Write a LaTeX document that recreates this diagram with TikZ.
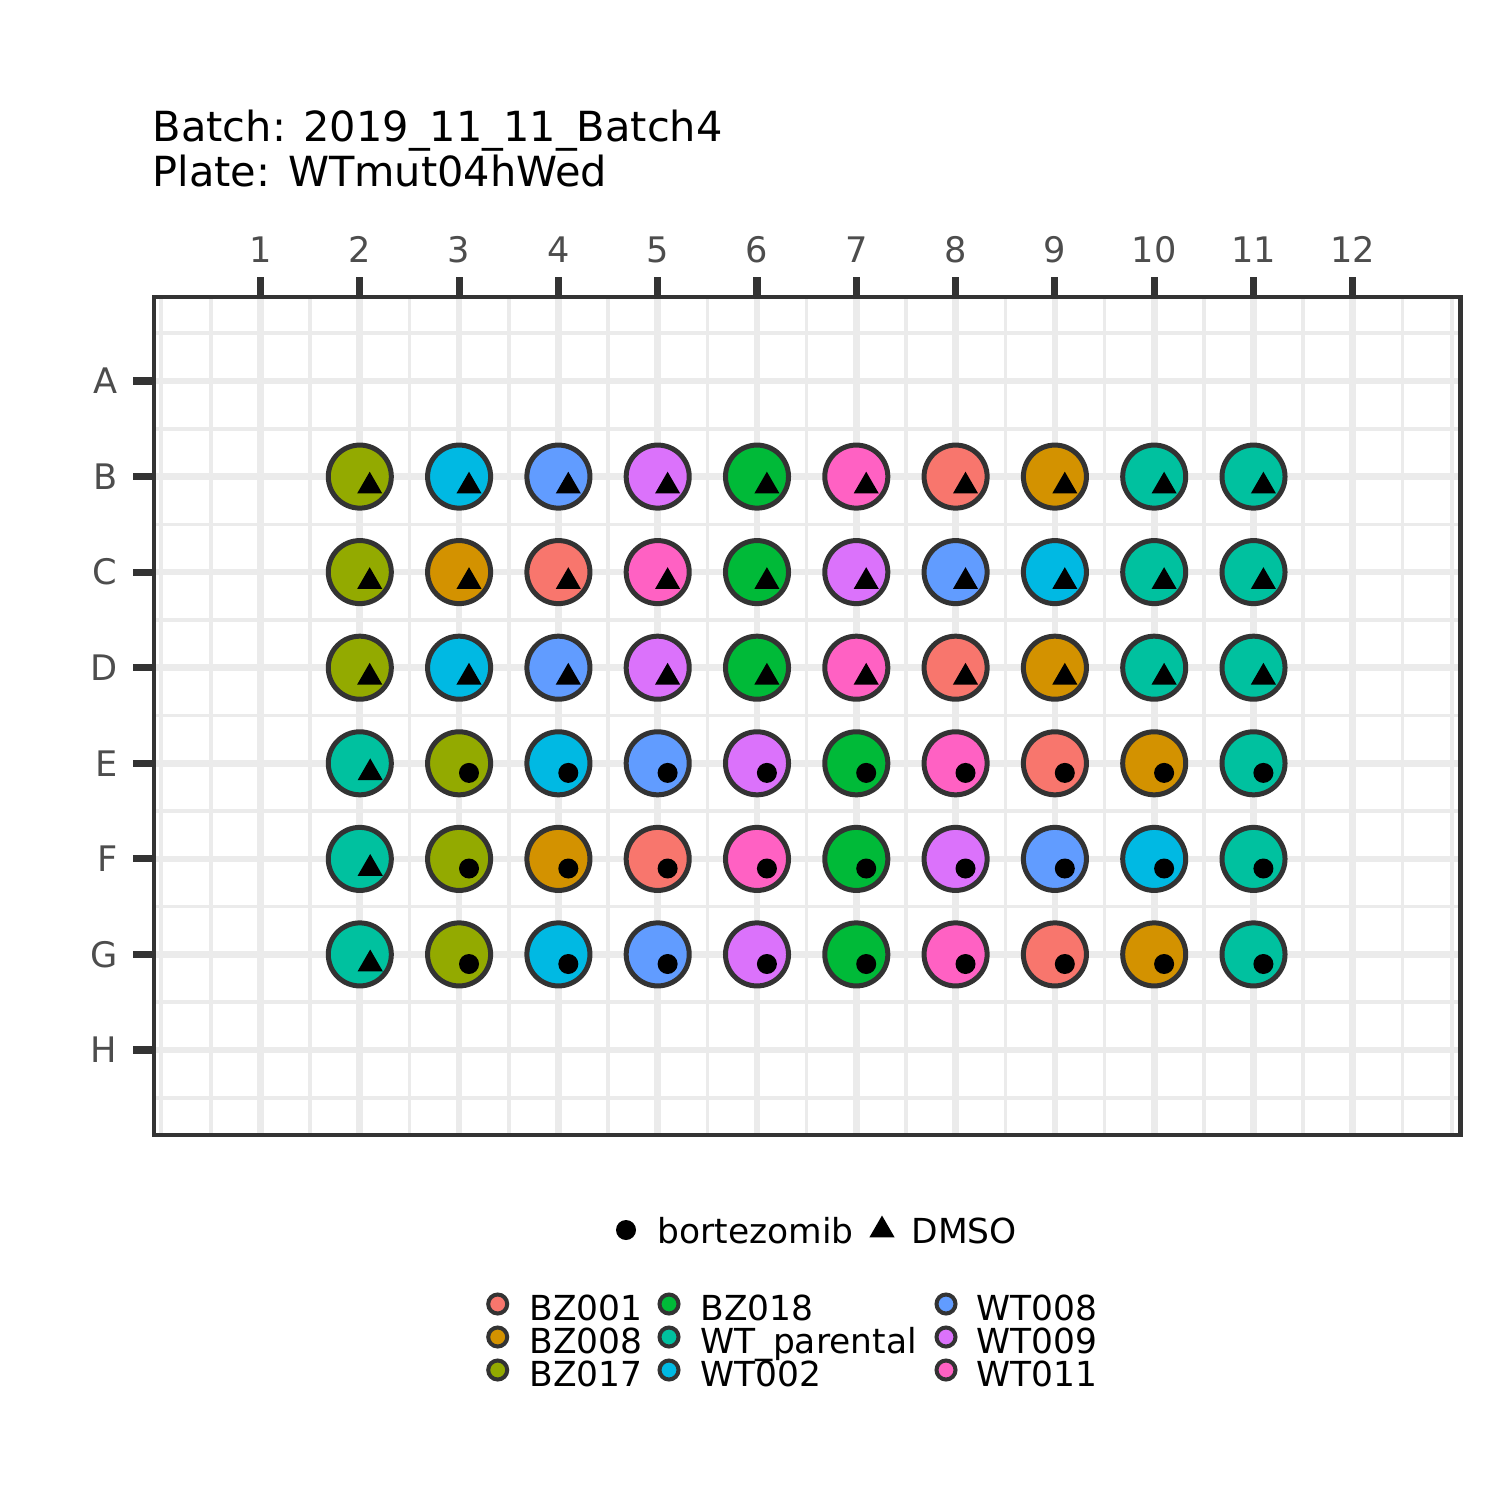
\documentclass[tikz,border=0pt]{standalone}
\usepackage{fontspec}
\setmainfont{DejaVu Sans}
\usetikzlibrary{shapes.geometric}
\definecolor{BZ001}{HTML}{F8766D}
\definecolor{BZ008}{HTML}{D39200}
\definecolor{BZ017}{HTML}{93AA00}
\definecolor{BZ018}{HTML}{00BA38}
\definecolor{WTpar}{HTML}{00C19F}
\definecolor{WT002}{HTML}{00B9E3}
\definecolor{WT008}{HTML}{619CFF}
\definecolor{WT009}{HTML}{DB72FB}
\definecolor{WT011}{HTML}{FF61C3}
\definecolor{gridgray}{HTML}{EBEBEB}
\definecolor{framegray}{HTML}{333333}
\definecolor{ticktext}{HTML}{4D4D4D}
\tikzstyle{well}=[circle, draw=framegray, line width=1.42pt,
  minimum size=0.63cm, inner sep=0pt]
\tikzstyle{keywell}=[circle, draw=framegray, line width=1.14pt,
  minimum size=0.19cm, inner sep=0pt]
\tikzstyle{dmso}=[regular polygon, regular polygon sides=3, fill=black,
  minimum size=0.29cm, inner sep=0pt]
\tikzstyle{bort}=[circle, fill=black, minimum size=0.2cm, inner sep=0pt]
\tikzstyle{majorgrid}=[line width=1.9pt, color=gridgray]
\tikzstyle{minorgrid}=[line width=1pt, color=gridgray]
\tikzstyle{axtick}=[line width=2pt, color=framegray]
\tikzstyle{axlabel}=[font=\fontsize{10}{12}\selectfont, text=ticktext, inner sep=0pt]
\tikzstyle{keytext}=[font=\fontsize{9.8}{12}\selectfont, anchor=base west, inner sep=0pt]
\tikzstyle{titletext}=[font=\fontsize{11.8}{13}\selectfont, anchor=base west, inner sep=0pt]

\begin{document}
\begin{tikzpicture}[x=0.01cm, y=-0.01cm]
    \useasboundingbox (0,0) rectangle (1500,1500);
    \fill[white] (0,0) rectangle (1500,1500);
    % title
    \node[titletext] (batch) at (152,142) {Batch: 2019\_11\_11\_Batch4};
    \node[titletext] (plate) at (152,187) {Plate: WTmut04hWed};
    % grid
    \foreach \c in {0.5,1.5,...,12.5}
      \draw[minorgrid] ({260.5+(\c-1)*99.3},297) -- ({260.5+(\c-1)*99.3},1135);
    \draw[minorgrid] (161.2,297) -- (161.2,1135);
    \draw[minorgrid] (1452.1,297) -- (1452.1,1135);
    \foreach \r in {0.5,1.5,...,8.5}
      \draw[minorgrid] (153.7,{381+(\r-1)*95.57}) -- (1460.5,{381+(\r-1)*95.57});
    \foreach \c in {1,...,12}
      \draw[majorgrid] ({260.5+(\c-1)*99.3},297) -- ({260.5+(\c-1)*99.3},1135);
    \foreach \r in {1,...,8}
      \draw[majorgrid] (153.7,{381+(\r-1)*95.57}) -- (1460.5,{381+(\r-1)*95.57});
    \draw[framegray, line width=1.2pt] (153.7,297) rectangle (1460.5,1135);
    % axes
    \foreach \c in {1,...,12}
    {
      \draw[axtick] ({260.5+(\c-1)*99.3},277) -- ({260.5+(\c-1)*99.3},297);
      \node[axlabel, anchor=base] (col\c) at ({260.5+(\c-1)*99.3},262) {\c};
    }
    \foreach \l [count=\r] in {A,B,C,D,E,F,G,H}
    {
      \draw[axtick] (133,{381+(\r-1)*95.57}) -- (153.7,{381+(\r-1)*95.57});
      \node[axlabel, anchor=east] (row\l) at (118,{381+(\r-1)*95.57}) {\l};
    }
    % wells, DMSO rows
    \foreach \rw/\y in {B/476.6,D/667.7}
      \foreach \cl [count=\c from 2] in {BZ017,WT002,WT008,WT009,BZ018,WT011,BZ001,BZ008,WTpar,WTpar}
      {
        \node[well, fill=\cl] (\rw\c) at ({260.5+(\c-1)*99.3},\y) {};
        \node[dmso] (\rw\c m) at ({270.4+(\c-1)*99.3},{\y+9.6}) {};
      }
    \foreach \cl [count=\c from 2] in {BZ017,BZ008,BZ001,WT011,BZ018,WT009,WT008,WT002,WTpar,WTpar}
    {
      \node[well, fill=\cl] (C\c) at ({260.5+(\c-1)*99.3},572.1) {};
      \node[dmso] (C\c m) at ({270.4+(\c-1)*99.3},581.7) {};
    }
    % wells, bortezomib rows
    \foreach \rw/\y in {E/763.3,G/954.4}
    {
      \foreach \cl [count=\c from 2] in {WTpar,BZ017,WT002,WT008,WT009,BZ018,WT011,BZ001,BZ008,WTpar}
        \node[well, fill=\cl] (\rw\c) at ({260.5+(\c-1)*99.3},\y) {};
      \node[dmso] (\rw2m) at (370.2,{\y+9.6}) {};
      \foreach \c in {3,...,11}
        \node[bort] (\rw\c m) at ({270.4+(\c-1)*99.3},{\y+9.6}) {};
    }
    \foreach \cl [count=\c from 2] in {WTpar,BZ017,BZ008,BZ001,WT011,BZ018,WT009,WT008,WT002,WTpar}
      \node[well, fill=\cl] (F\c) at ({260.5+(\c-1)*99.3},858.9) {};
    \node[dmso] (F2m) at (370.2,868.5) {};
    \foreach \c in {3,...,11}
      \node[bort] (F\c m) at ({270.4+(\c-1)*99.3},868.5) {};
    % legend
    \node[bort] (kbort) at (626,1230) {};
    \node[keytext] (kbortlab) at (657,1243) {bortezomib};
    \node[dmso] (kdmso) at (882,1230) {};
    \node[keytext] (kdmsolab) at (911,1243) {DMSO};
    \foreach \cl/\lab [count=\k from 0] in {BZ001/BZ001,BZ008/BZ008,BZ017/BZ017}
    {
      \node[keywell, fill=\cl] (k\cl) at (497.7,{1304+\k*33}) {};
      \node[keytext] (k\cl lab) at (529,{1320+\k*33}) {\lab};
    }
    \foreach \cl/\lab [count=\k from 0] in {BZ018/BZ018,WTpar/WT\_parental,WT002/WT002}
    {
      \node[keywell, fill=\cl] (k\cl) at (669,{1304+\k*33}) {};
      \node[keytext] (k\cl lab) at (700,{1320+\k*33}) {\lab};
    }
    \foreach \cl/\lab [count=\k from 0] in {WT008/WT008,WT009/WT009,WT011/WT011}
    {
      \node[keywell, fill=\cl] (k\cl) at (946,{1304+\k*33}) {};
      \node[keytext] (k\cl lab) at (976,{1320+\k*33}) {\lab};
    }
  \end{tikzpicture}
\end{document}
